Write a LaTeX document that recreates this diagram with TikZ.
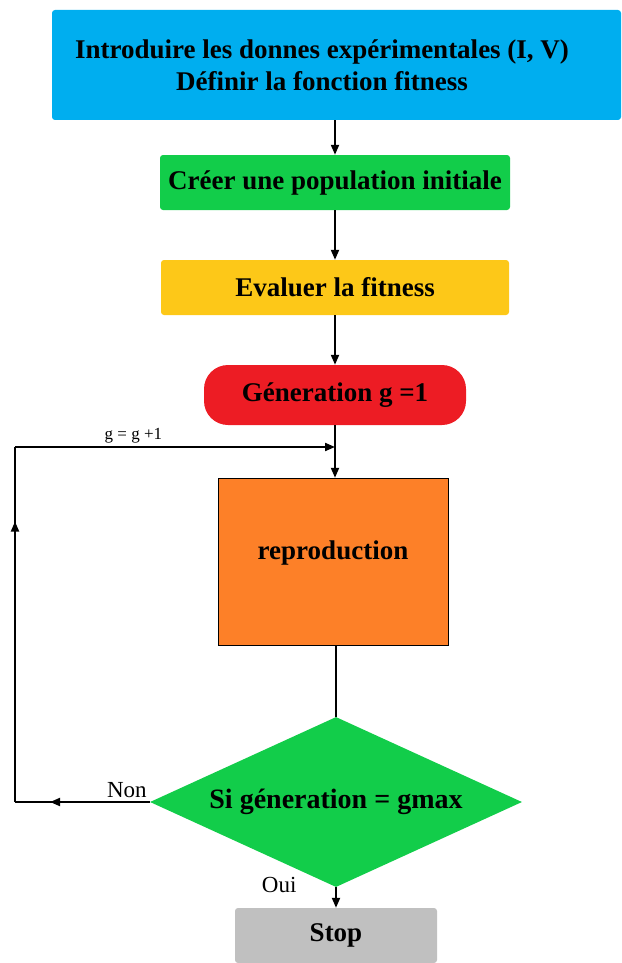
\documentclass[tikz,border=0pt]{standalone}
\usepackage{fontspec}
\setmainfont{Liberation Serif}
\usetikzlibrary{shapes.geometric,arrows.meta,decorations.markings}
\definecolor{bleu}{RGB}{0,174,239}
\definecolor{vert}{RGB}{18,205,74}
\definecolor{jaune}{RGB}{253,200,24}
\definecolor{rouge}{RGB}{237,28,36}
\definecolor{orange}{RGB}{253,128,40}
\definecolor{gris}{RGB}{192,192,192}
\begin{document}
\begin{tikzpicture}[x=1pt,y=-1pt,
    boite/.style={rectangle,rounded corners=3pt,minimum height=55pt,inner sep=0pt,
      font=\fontsize{27}{32}\selectfont\bfseries},
    fleche/.style={line width=2pt,-{Triangle[length=10pt,width=8pt]}},
    ligne/.style={line width=2pt},
    milieu/.style={postaction=decorate,decoration={markings,
      mark=at position #1 with {\arrow{Triangle[length=10pt,width=8pt]}}}},
    etiquette/.style={font=\fontsize{23}{26}\selectfont}]
  \useasboundingbox (0,0) rectangle (621,963);
  \draw
    (336.5,65) node[boite,fill=bleu,minimum width=569pt,minimum height=110pt] (donnees){}
    (322,65) node[font=\fontsize{27}{32}\selectfont\bfseries,align=center] (donneestxt)
      {Introduire les donnes expérimentales (I, V)\\Définir la fonction fitness}
    (335,182.5) node[boite,fill=vert,minimum width=350pt] (pop){Créer une population initiale}
    (335,287.5) node[boite,fill=jaune,minimum width=348pt] (eval){Evaluer la fitness}
    (335,395) node[boite,fill=rouge,minimum width=262pt,minimum height=60pt,rounded corners=24pt] (gen){Géneration g =1}
    (333,561.5) node[boite,fill=orange,draw=black,thin,rounded corners=0pt,minimum width=230pt,minimum height=167pt] (repro){\raisebox{22pt}{reproduction}}
    (336,802) node[diamond,fill=vert,inner sep=0pt,shape aspect=2.19,minimum width=372pt,minimum height=170pt,
      font=\fontsize{28}{32}\selectfont\bfseries] (test){Si géneration = gmax}
    (336,935.5) node[boite,fill=gris,minimum width=202pt] (stop){Stop};
  \coordinate (coinbas) at (15,802);
  \coordinate (coinhaut) at (15,447);
  \coordinate (entree) at (335,447);
  \begin{scope}[fleche]
    \draw (pop.north |- donnees.south) to (pop);
    \draw (pop) to (eval);
    \draw (eval) to (gen);
    \draw (gen.south -| entree) to (repro.north -| entree);
    \draw (coinhaut) to node[above,font=\fontsize{17}{20}\selectfont,pos=0.37] (incr){g = g +1} (entree);
    \draw (test.south) to (stop.north);
  \end{scope}
  \begin{scope}[ligne]
    \draw (repro.south -| test.north) to (test.north);
    \draw[milieu=0.74] (test.west) to node[above,etiquette,pos=0.17] (non){Non} (coinbas);
    \draw[milieu=0.79] (coinbas) to (coinhaut);
  \end{scope}
  \node[etiquette,left] (oui) at (300,885) {Oui};
\end{tikzpicture}
\end{document}
